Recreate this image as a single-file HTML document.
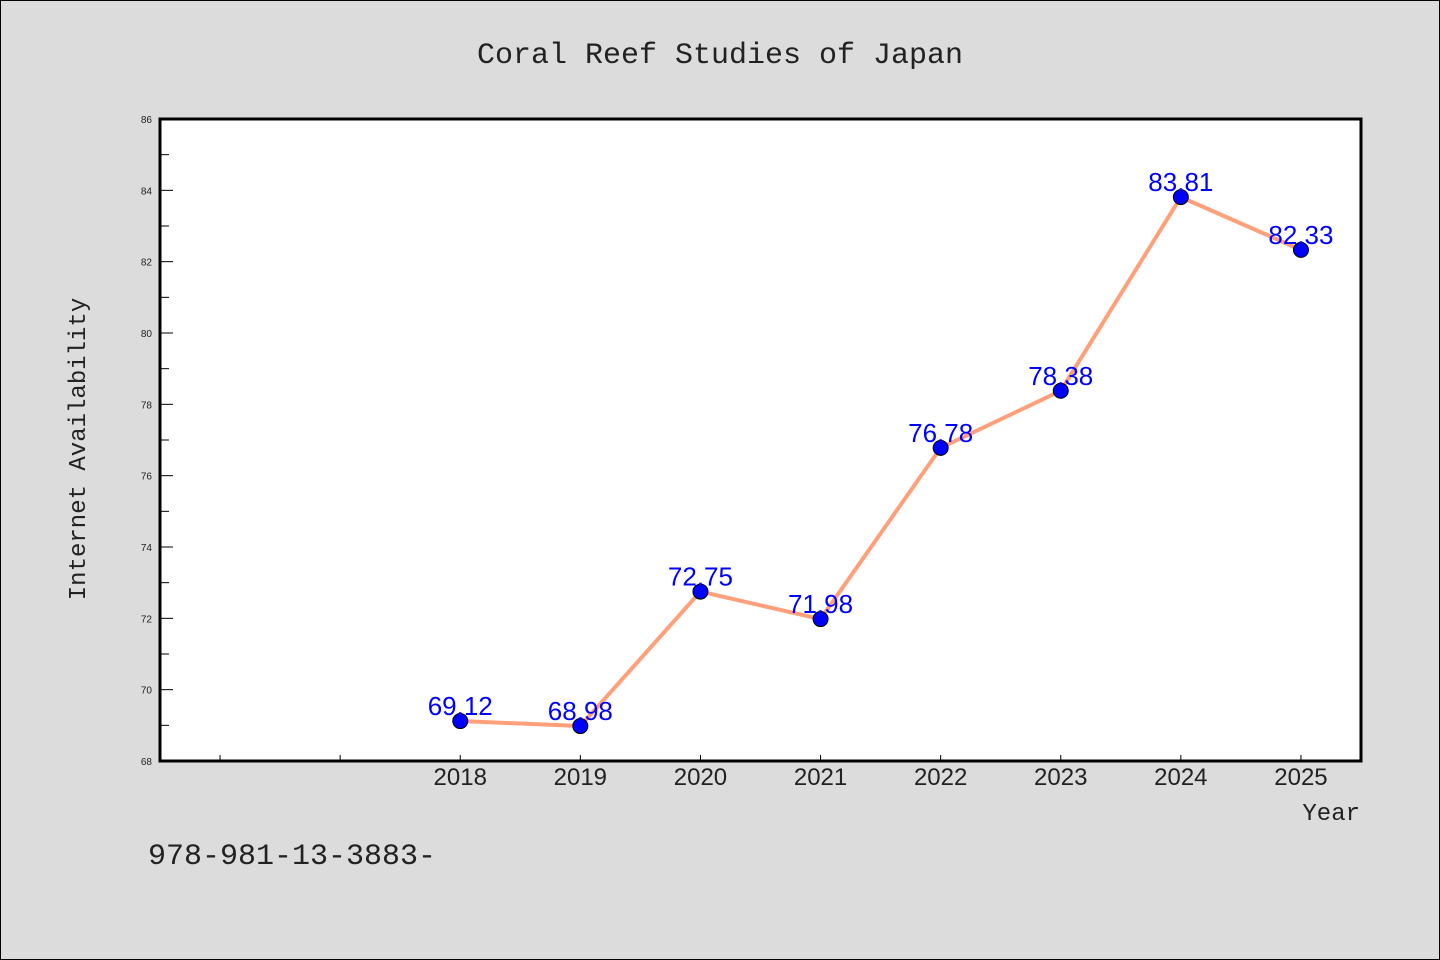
<!DOCTYPE html>
<html><head><meta charset="utf-8"><style>
html,body{margin:0;padding:0;background:#dcdcdc;}
svg{display:block;}
</style></head><body>
<svg width="1440" height="960" xmlns="http://www.w3.org/2000/svg">
<rect x="0.5" y="0.5" width="1439" height="959" fill="#dcdcdc" stroke="#000"/>
<text x="720" y="63" text-anchor="middle" font-family="Liberation Mono, monospace" font-size="30" fill="#222">Coral Reef Studies of Japan</text>
<rect x="160" y="119" width="1201" height="642" fill="#fff"/>
<g id="axes"></g>
<g id="marks"></g>
<rect x="160" y="119" width="1201" height="642" fill="none" stroke="#000" stroke-width="3"/>
<text transform="translate(85,449) rotate(-90)" text-anchor="middle" font-family="Liberation Mono, monospace" font-size="24" fill="#222">Internet Availability</text>
<text x="1360" y="820" text-anchor="end" font-family="Liberation Mono, monospace" font-size="24" fill="#222">Year</text>
<text x="148" y="864" font-family="Liberation Mono, monospace" font-size="30" fill="#222">978-981-13-3883-</text>
</svg>
<script>
const years = [2018, 2019, 2020, 2021, 2022, 2023, 2024, 2025];
const values = [69.12, 68.98, 72.75, 71.98, 76.78, 78.38, 83.81, 82.33];
const labels = ["69.12", "68.98", "72.75", "71.98", "76.78", "78.38", "83.81", "82.33"];
const yTicks = [68, 70, 72, 74, 76, 78, 80, 82, 84, 86];
const xTicks = [2016, 2017, 2018, 2019, 2020, 2021, 2022, 2023, 2024, 2025];

const NS = "http://www.w3.org/2000/svg";
const X0 = 160, X1 = 1361, Y0 = 761, Y1 = 119;
const xMin = 2015.5, xMax = 2025.5, yMin = 68, yMax = 86;
function sx(v){ return X0 + (v - xMin) / (xMax - xMin) * (X1 - X0); }
function sy(v){ return Y0 - (v - yMin) / (yMax - yMin) * (Y0 - Y1); }
function mk(tag, attrs, parent){
  const e = document.createElementNS(NS, tag);
  for (const k in attrs) e.setAttribute(k, attrs[k]);
  parent.appendChild(e);
  return e;
}
const axes = document.getElementById("axes");
const marks = document.getElementById("marks");

yTicks.forEach(function(t){
  const l = mk("line", {x1: X0, x2: X0 + 13, y1: sy(t), y2: sy(t), stroke: "#000", "stroke-width": 1}, axes);
  
  
  const tx = mk("text", {x: 152, y: sy(t) + 4, "text-anchor": "end", "font-family": "Liberation Sans, sans-serif", "font-size": 10, fill: "#222"}, axes);
  tx.textContent = t;
  
  
  if (t < yMax) {
    const m = mk("line", {x1: X0, x2: X0 + 9, y1: sy(t + 1), y2: sy(t + 1), stroke: "#000", "stroke-width": 1}, axes);
    
    
  }
});
xTicks.forEach(function(t){
  const l = mk("line", {x1: sx(t), x2: sx(t), y1: Y0, y2: Y0 - 6, stroke: "#000", "stroke-width": 1}, axes);
  
  
  if (years.indexOf(t) >= 0) {
    const tx = mk("text", {x: sx(t), y: 785, "text-anchor": "middle", "font-family": "Liberation Sans, sans-serif", "font-size": 24, fill: "#222"}, axes);
    tx.textContent = t;
    
    
  }
});

const pts = years.map(function(y, i){ return sx(y) + "," + sy(values[i]); }).join(" ");
const line = mk("polyline", {points: pts, fill: "none", stroke: "#ffa07a", "stroke-width": 4, "stroke-linejoin": "round"}, marks);


years.forEach(function(y, i){
  const c = mk("circle", {cx: sx(y), cy: sy(values[i]), r: 7.5, fill: "#0000ff", stroke: "#000", "stroke-width": 1}, marks);
  
  
});
years.forEach(function(y, i){
  const t = mk("text", {x: sx(y), y: sy(values[i]) - 6, "text-anchor": "middle", "font-family": "Liberation Sans, sans-serif", "font-size": 26, fill: "#0000ff"}, marks);
  t.textContent = labels[i];
  
  
});
</script>
</body></html>
